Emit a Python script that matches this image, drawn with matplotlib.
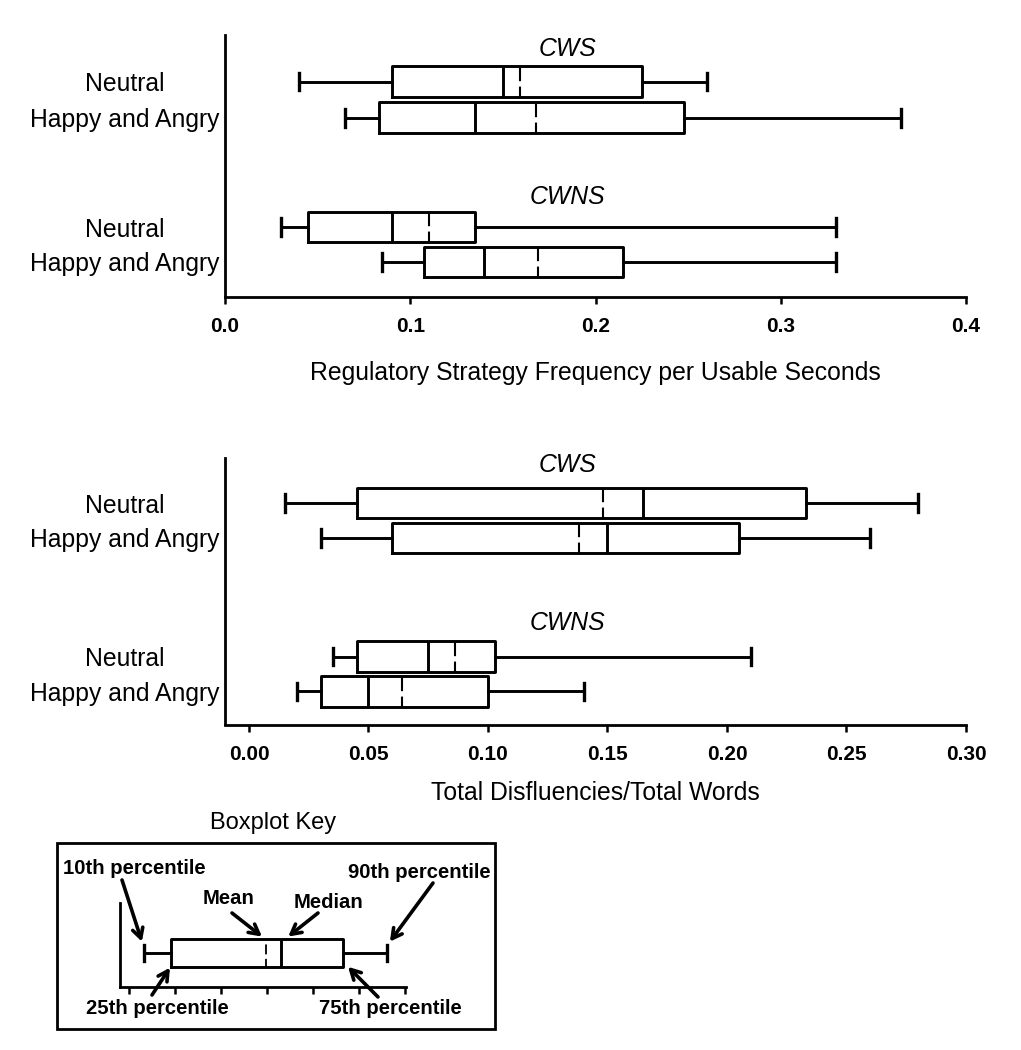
import matplotlib
matplotlib.use("Agg")
import matplotlib.pyplot as plt
from matplotlib.patches import Rectangle

plt.rcParams['font.family'] = ['Liberation Sans', 'DejaVu Sans']

# ---------------- data ----------------
group_labels = ['CWS', 'CWNS']
condition_labels = ['Neutral', 'Happy and Angry']

# order: CWS Neutral, CWS Happy&Angry, CWNS Neutral, CWNS Happy&Angry
reg_whislo = [0.040, 0.065, 0.030, 0.085]
reg_q1 = [0.090, 0.083, 0.045, 0.1075]
reg_med = [0.150, 0.135, 0.090, 0.140]
reg_mean = [0.159, 0.168, 0.110, 0.169]
reg_q3 = [0.225, 0.248, 0.135, 0.215]
reg_whishi = [0.260, 0.365, 0.330, 0.330]
reg_ticks = [0.0, 0.1, 0.2, 0.3, 0.4]
reg_ticklabels = ['0.0', '0.1', '0.2', '0.3', '0.4']
reg_xlabel = 'Regulatory Strategy Frequency per Usable Seconds'

dis_whislo = [0.015, 0.030, 0.035, 0.020]
dis_q1 = [0.045, 0.060, 0.045, 0.030]
dis_med = [0.165, 0.150, 0.075, 0.050]
dis_mean = [0.148, 0.138, 0.086, 0.064]
dis_q3 = [0.233, 0.205, 0.103, 0.100]
dis_whishi = [0.280, 0.260, 0.210, 0.140]
dis_ticks = [0.00, 0.05, 0.10, 0.15, 0.20, 0.25, 0.30]
dis_ticklabels = ['0.00', '0.05', '0.10', '0.15', '0.20', '0.25', '0.30']
dis_xlabel = 'Total Disfluencies/Total Words'

key_whislo = 0.33
key_q1 = 0.91
key_med = 3.30
key_mean = 2.98
key_q3 = 4.65
key_whishi = 5.61
key_ticks = [0, 1, 2, 3, 4, 5, 6]

W, H = 1021, 1050
fig = plt.figure(figsize=(W / 100, H / 100), dpi=100)

LW = 2.1
boxprops = dict(linewidth=LW, color='black')
whiskerprops = dict(linewidth=LW, color='black')
capprops = dict(linewidth=2.4, color='black')
medianprops = dict(linewidth=LW, color='black')
meanprops = dict(linewidth=1.5, color='black', linestyle=(1.5, (6.5, 2.6)))


def make_stats(wl, q1, med, mean, q3, wh):
    return [dict(whislo=a, q1=b, med=c, mean=d, q3=e, whishi=f, fliers=[])
            for a, b, c, d, e, f in zip(wl, q1, med, mean, q3, wh)]


def panel(rect, stats, positions, ylim, xlim, ticks, ticklabels, xlabel,
          labelpad, grp_offset_pts):
    ax = fig.add_axes(rect)
    ax.bxp(stats, positions=positions, orientation='horizontal',
           widths=0.86, capwidths=0.5, showmeans=True, meanline=True,
           showfliers=False, boxprops=boxprops, whiskerprops=whiskerprops,
           capprops=capprops, medianprops=medianprops, meanprops=meanprops,
           manage_ticks=False)
    ax.set_xlim(*xlim)
    ax.set_ylim(*ylim)
    for s in ['top', 'right']:
        ax.spines[s].set_visible(False)
    for s in ['left', 'bottom']:
        ax.spines[s].set_linewidth(2.0)
    ax.set_xticks(ticks)
    ax.set_xticklabels(ticklabels, fontsize=15, fontweight='bold')
    ax.tick_params(axis='x', direction='out', length=5, width=1.8, pad=10)
    labels = [condition_labels[0], condition_labels[1],
              condition_labels[0], condition_labels[1]]
    ax.set_yticks(positions)
    ax.set_yticklabels(labels, fontsize=17.8)
    for t in ax.get_yticklabels():
        t.set_horizontalalignment('center')
    ax.tick_params(axis='y', length=0, pad=72)
    ax.set_xlabel(xlabel, fontsize=17.8, labelpad=labelpad)
    # group titles above the neutral box of each group
    for g, (lab, off) in enumerate(zip(group_labels, grp_offset_pts)):
        ax.annotate(lab, xy=(0.462, positions[2 * g]),
                    xycoords=('axes fraction', 'data'),
                    xytext=(0, off), textcoords='offset points',
                    ha='center', va='center', fontsize=17.8, style='italic')
    return ax


# top panel
top_rect = [225 / W, 1 - 296.5 / H, (966 - 225) / W, (296.5 - 35) / H]
top_pos = [5.1, 4.08, 0.98, 0.0]
panel(top_rect,
      make_stats(reg_whislo, reg_q1, reg_med, reg_mean, reg_q3, reg_whishi),
      top_pos, (-0.98, 6.42), (0.0, 0.4), reg_ticks, reg_ticklabels,
      reg_xlabel, 18, [23.5, 22])

# bottom panel
bot_rect = [225 / W, 1 - 724.5 / H, (966 - 225) / W, (724.5 - 458) / H]
bot_pos = [5.35, 4.36, 0.99, 0.0]
panel(bot_rect,
      make_stats(dis_whislo, dis_q1, dis_med, dis_mean, dis_q3, dis_whishi),
      bot_pos, (-0.94, 6.63), (-0.01004, 0.30), dis_ticks, dis_ticklabels,
      dis_xlabel, 12, [27.5, 24])

# ---------------- key ----------------
def fx(px):
    return px / W


def fy(py):
    return 1 - py / H


fig.add_artist(Rectangle((fx(56.5), fy(1029)), fx(495) - fx(56.5),
                         fy(843) - fy(1029), transform=fig.transFigure,
                         fill=False, linewidth=2.0, edgecolor='black'))
fig.text(fx(273), fy(823), 'Boxplot Key', ha='center', va='center',
         fontsize=17)

kax = fig.add_axes([fx(120), fy(987), (406 - 120) / W, (987 - 903) / H])
kstats = make_stats([key_whislo], [key_q1], [key_med], [key_mean],
                    [key_q3], [key_whishi])
kax.bxp(kstats, positions=[0.405], orientation='horizontal', widths=0.333,
        capwidths=0.18, showmeans=True, meanline=True, showfliers=False,
        boxprops=boxprops, whiskerprops=whiskerprops, capprops=capprops,
        medianprops=medianprops,
        meanprops=dict(linewidth=1.3, color='black',
                       linestyle=(1.0, (5.5, 2.5))),
        manage_ticks=False)
kax.set_xlim(-0.196, 6.02)
kax.set_ylim(0, 1)
for s in ['top', 'right']:
    kax.spines[s].set_visible(False)
for s in ['left', 'bottom']:
    kax.spines[s].set_linewidth(2.0)
kax.set_xticks(key_ticks)
kax.set_xticklabels([])
kax.set_yticks([])
kax.tick_params(axis='x', direction='out', length=5, width=1.8)

key_texts = [
    ('10th percentile', 134.5, 868),
    ('90th percentile', 419.5, 872),
    ('Mean', 229, 898),
    ('Median', 328, 902),
    ('25th percentile', 157, 1008),
    ('75th percentile', 390, 1008),
]
for txt, px, py in key_texts:
    fig.text(fx(px), fy(py), txt, ha='center', va='center', fontsize=14.6,
             fontweight='bold')

# arrows: (tail pixel) -> target in key-axis data coords
arrows = [
    ((122, 880), (key_whislo - 0.05, 0.54)),
    ((433, 883), (key_whishi + 0.06, 0.54)),
    ((232, 913), (key_mean - 0.09, 0.60)),
    ((318, 913), (key_med + 0.16, 0.60)),
    ((152, 995), (key_q1 - 0.02, 0.23)),
    ((378, 997), (key_q3 + 0.11, 0.24)),
]
for (tx, ty), (ax_x, ax_y) in arrows:
    kax.annotate('', xy=(ax_x, ax_y), xycoords='data',
                 xytext=(fx(tx), fy(ty)), textcoords='figure fraction',
                 arrowprops=dict(arrowstyle='->,head_length=0.7,head_width=0.38',
                                 lw=2.6, color='black',
                                 shrinkA=0, shrinkB=0),
                 annotation_clip=False)

fig.savefig('out.png', dpi=100)
